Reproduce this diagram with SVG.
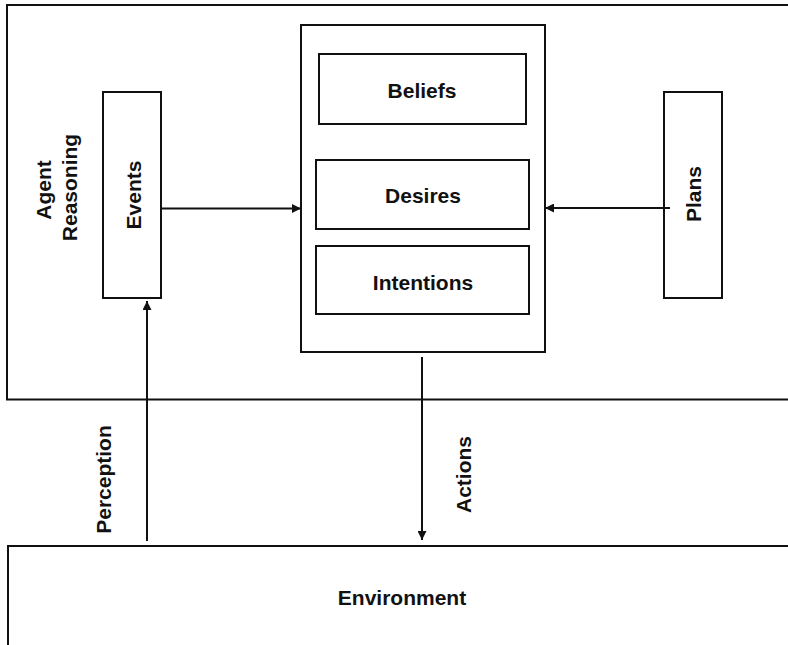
<svg xmlns="http://www.w3.org/2000/svg" width="788" height="645" viewBox="0 0 788 645">
  <defs>
    <style>
      .box { fill: #ffffff; stroke: #111111; stroke-width: 2; }
      .frame { fill: none; stroke: #111111; stroke-width: 2; }
      .link { fill: none; stroke: #111111; stroke-width: 2; }
      .lbl { font-family: "Liberation Sans", Arial, Helvetica, sans-serif; font-size: 21px; font-weight: bold; fill: #111111; text-anchor: middle; }
    </style>
    <marker id="arrow" viewBox="0 0 10 10" refX="10" refY="5" markerWidth="10" markerHeight="9" markerUnits="userSpaceOnUse" orient="auto">
      <path d="M0,0 L10,5 L0,10 Z" fill="#111111"/>
    </marker>
  </defs>
  <rect width="788" height="645" fill="#ffffff"/>

  <!-- Agent reasoning frame, open past the right edge -->
  <g id="agent-reasoning">
    <path class="frame" d="M800,5 H7 V399.5 H800"/>
    <text class="lbl" transform="translate(51,190) rotate(-90)">Agent</text>
    <text class="lbl" transform="translate(77,187.5) rotate(-90)">Reasoning</text>
  </g>

  <!-- Environment frame, open past the right and bottom edges -->
  <g id="environment">
    <path class="frame" d="M800,546 H8 V660"/>
    <text class="lbl" x="402" y="605">Environment</text>
  </g>

  <g id="events">
    <rect class="box" x="103" y="92" width="58" height="206"/>
    <text class="lbl" transform="translate(140.5,195) rotate(-90)">Events</text>
  </g>

  <g id="plans">
    <rect class="box" x="664" y="92" width="58" height="206"/>
    <text class="lbl" transform="translate(701,194) rotate(-90)">Plans</text>
  </g>

  <g id="bdi">
    <rect class="box" x="301" y="25" width="244" height="327"/>
  </g>

  <g id="beliefs">
    <rect class="box" x="319" y="54" width="207" height="70"/>
    <text class="lbl" x="422" y="98">Beliefs</text>
  </g>

  <g id="desires">
    <rect class="box" x="316" y="160" width="213" height="69"/>
    <text class="lbl" x="423" y="203">Desires</text>
  </g>

  <g id="intentions">
    <rect class="box" x="316" y="246" width="213" height="68"/>
    <text class="lbl" x="423" y="290">Intentions</text>
  </g>

  <!-- connectors -->
  <g id="connectors">
    <line class="link" x1="161" y1="208.5" x2="301" y2="208.5" marker-end="url(#arrow)"/>
    <line class="link" x1="670" y1="208" x2="545" y2="208" marker-end="url(#arrow)"/>
    <line class="link" x1="147" y1="541" x2="147" y2="301" marker-end="url(#arrow)"/>
    <line class="link" x1="422" y1="357" x2="422" y2="540" marker-end="url(#arrow)"/>
    <text class="lbl" transform="translate(111,479.5) rotate(-90)">Perception</text>
    <text class="lbl" transform="translate(471,474.5) rotate(-90)">Actions</text>
  </g>
</svg>
